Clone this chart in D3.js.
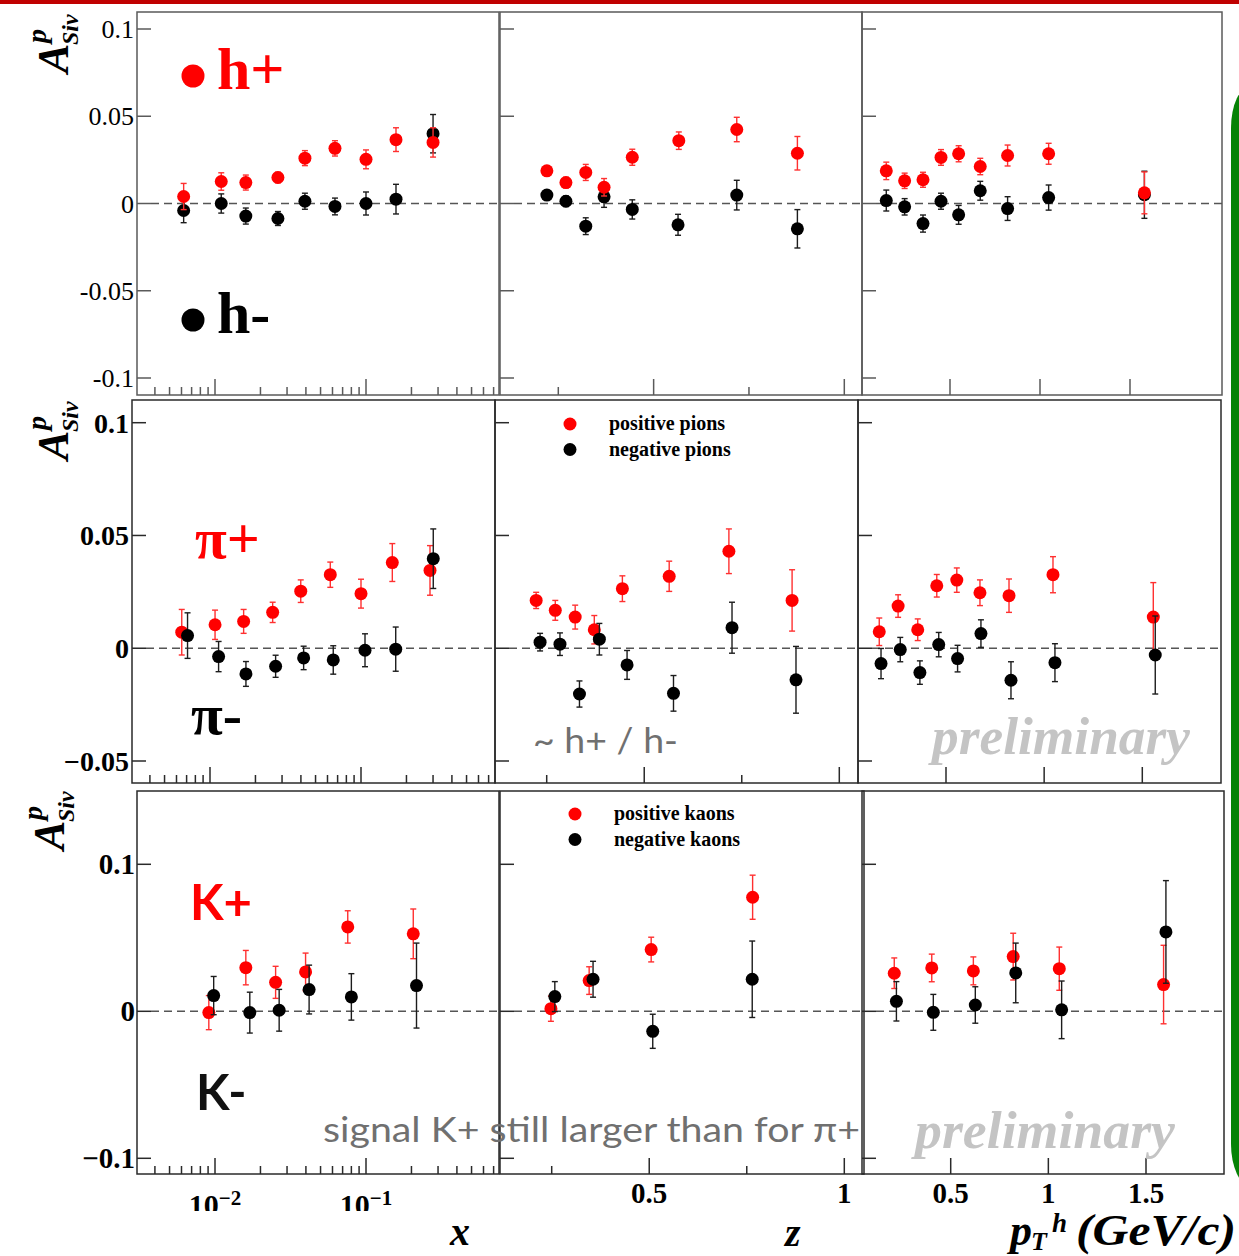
<!DOCTYPE html>
<html>
<head>
<meta charset="utf-8">
<script src="https://cdn.jsdelivr.net/npm/d3@7"></script>
<style>
  body { margin: 0; background: #fff; }
  svg { display: block; }
</style>
</head>
<body>
<svg id="chart" width="1239" height="1256"></svg>
<script>
// Sivers asymmetry on a proton target, binned in x, z and pT.
// Each point: [bin centre, asymmetry, statistical error].

// --- unidentified hadrons ---
const hPosX = [[0.0062,0.0040,0.0075],[0.0110,0.0126,0.0050],[0.0160,0.0120,0.0043],[0.0261,0.0149,0.0030],[0.0394,0.0260,0.0043],[0.0623,0.0316,0.0044],[0.1000,0.0253,0.0054],[0.1580,0.0366,0.0068],[0.2780,0.0350,0.0084]];
const hNegX = [[0.0062,-0.0040,0.0070],[0.0110,0.0000,0.0055],[0.0160,-0.0072,0.0046],[0.0261,-0.0086,0.0040],[0.0394,0.0013,0.0046],[0.0623,-0.0017,0.0048],[0.1000,0.0000,0.0066],[0.1580,0.0025,0.0085],[0.2780,0.0400,0.0110]];
const hPosZ = [[0.220,0.0187,0.0025],[0.270,0.0120,0.0030],[0.322,0.0178,0.0046],[0.370,0.0093,0.0050],[0.444,0.0265,0.0046],[0.566,0.0360,0.0050],[0.718,0.0424,0.0070],[0.877,0.0288,0.0096]];
const hNegZ = [[0.220,0.0048,0.0020],[0.270,0.0013,0.0030],[0.322,-0.0130,0.0048],[0.370,0.0038,0.0060],[0.444,-0.0034,0.0055],[0.564,-0.0122,0.0060],[0.718,0.0048,0.0085],[0.877,-0.0145,0.0110]];
const hPosPt = [[0.146,0.0187,0.0050],[0.248,0.0130,0.0044],[0.350,0.0136,0.0043],[0.450,0.0264,0.0045],[0.548,0.0285,0.0046],[0.668,0.0212,0.0047],[0.820,0.0275,0.0060],[1.048,0.0285,0.0060],[1.580,0.0061,0.0120]];
const hNegPt = [[0.146,0.0017,0.0060],[0.248,-0.0019,0.0047],[0.350,-0.0115,0.0049],[0.450,0.0013,0.0046],[0.548,-0.0065,0.0054],[0.668,0.0073,0.0054],[0.820,-0.0029,0.0068],[1.048,0.0034,0.0072],[1.580,0.0050,0.0135]];

// --- pions ---
const piPosX = [[0.0065,0.0071,0.0101],[0.0108,0.0104,0.0065],[0.0167,0.0119,0.0053],[0.0260,0.0159,0.0045],[0.0399,0.0253,0.0050],[0.0626,0.0326,0.0056],[0.1000,0.0242,0.0064],[0.1612,0.0380,0.0084],[0.2864,0.0345,0.0110]];
const piNegX = [[0.0071,0.0056,0.0101],[0.0114,-0.0037,0.0067],[0.0173,-0.0114,0.0055],[0.0272,-0.0080,0.0049],[0.0417,-0.0043,0.0052],[0.0655,-0.0052,0.0063],[0.1063,-0.0009,0.0073],[0.1698,-0.0004,0.0098],[0.3010,0.0397,0.0132]];
const piPosZ = [[0.223,0.0212,0.0036],[0.272,0.0168,0.0044],[0.323,0.0138,0.0053],[0.372,0.0082,0.0063],[0.444,0.0264,0.0057],[0.564,0.0319,0.0067],[0.717,0.0430,0.0099],[0.879,0.0212,0.0136]];
const piNegZ = [[0.233,0.0027,0.0039],[0.284,0.0018,0.0050],[0.334,-0.0203,0.0058],[0.385,0.0040,0.0070],[0.456,-0.0074,0.0064],[0.575,-0.0200,0.0079],[0.725,0.0091,0.0113],[0.889,-0.0140,0.0148]];
const piPosPt = [[0.160,0.0073,0.0061],[0.256,0.0187,0.0050],[0.356,0.0082,0.0048],[0.453,0.0277,0.0050],[0.555,0.0302,0.0054],[0.673,0.0246,0.0057],[0.821,0.0233,0.0074],[1.045,0.0326,0.0080],[1.556,0.0138,0.0153]];
const piNegPt = [[0.169,-0.0068,0.0067],[0.267,-0.0006,0.0054],[0.367,-0.0108,0.0052],[0.463,0.0016,0.0054],[0.559,-0.0046,0.0059],[0.678,0.0065,0.0061],[0.831,-0.0142,0.0082],[1.055,-0.0064,0.0084],[1.566,-0.0030,0.0173]];

// --- kaons ---
const kPosX = [[0.0091,-0.0009,0.0116],[0.0160,0.0297,0.0117],[0.0252,0.0197,0.0109],[0.0398,0.0268,0.0128],[0.0757,0.0574,0.0110],[0.2056,0.0527,0.0169]];
const kNegX = [[0.0098,0.0107,0.0130],[0.0170,-0.0009,0.0139],[0.0266,0.0007,0.0142],[0.0420,0.0148,0.0166],[0.0800,0.0098,0.0158],[0.2160,0.0175,0.0289]];
const kPosZ = [[0.248,0.0018,0.0086],[0.346,0.0209,0.0094],[0.505,0.0420,0.0084],[0.765,0.0776,0.0150]];
const kNegZ = [[0.258,0.0100,0.0102],[0.356,0.0218,0.0122],[0.509,-0.0136,0.0116],[0.764,0.0218,0.0260]];
const kPosPt = [[0.211,0.0259,0.0104],[0.403,0.0295,0.0094],[0.616,0.0275,0.0095],[0.820,0.0372,0.0159],[1.056,0.0290,0.0147],[1.590,0.0182,0.0267]];
const kNegPt = [[0.222,0.0068,0.0134],[0.411,-0.0007,0.0122],[0.626,0.0043,0.0124],[0.833,0.0261,0.0203],[1.068,0.0010,0.0196],[1.602,0.0540,0.0349]];

// --- axis ticks ---
const yTicksHadron = [-0.1, -0.05, 0, 0.05, 0.1];
const yTicksPion = [-0.05, 0, 0.05, 0.1];
const yTicksKaon = [-0.1, 0, 0.1];
const xMajorTicks = [0.01, 0.1];
const xTickExponents = ["\u22122", "\u22121"];
const zMajorTicks = [0.5, 1];
const zMinorTicks = [0.25, 0.75];
const zTickLabels = ["0.5", "1"];
const ptTicks = [0.5, 1, 1.5];
const ptTickLabels = ["0.5", "1", "1.5"];

const RED = "#ff0000", RED_BAR = "#ff3030", BLACK = "#000000", BLACK_BAR = "#1c1c1c";
const SERIF = "'Liberation Serif','Times New Roman',serif";
const SANS = "Lato,'Open Sans','Liberation Sans',sans-serif";

const svg = d3.select("#chart");

// slide decorations
svg.append("rect").attr("x", 0).attr("y", 0).attr("width", 1239).attr("height", 4).attr("fill", "#c00000");
svg.append("rect").attr("x", 1231).attr("y", 86).attr("width", 60).attr("height", 1100)
  .attr("rx", 20).attr("ry", 42).attr("fill", "#068206");

// row geometry: three canvases stacked, each with x / z / pT panels
const rows = [
  {
    top: 12, bottom: 395, yDom: [-0.1, 0.1], yRng: [378, 29], yTicks: yTicksHadron,
    minus: "-", labSize: 26, labWeight: "normal", labEnd: 134, frame: "#5a5a5a", redOnTop: true,
    panels: [
      { kind: "x", l: 137, r: 499, dom: [0.01, 0.1], rng: [215, 366], pos: hPosX, neg: hNegX },
      { kind: "z", l: 500, r: 862, dom: [0.25, 1], rng: [558.3, 844.3], pos: hPosZ, neg: hNegZ },
      { kind: "pt", l: 862, r: 1222, dom: [0.5, 1.5], rng: [950, 1130], pos: hPosPt, neg: hNegPt }
    ]
  },
  {
    top: 400, bottom: 783, yDom: [-0.05, 0.1], yRng: [761, 422.7], yTicks: yTicksPion,
    minus: "\u2212", labSize: 28, labWeight: "bold", labEnd: 129, frame: "#2a2a2a", redOnTop: false,
    panels: [
      { kind: "x", l: 132, r: 495, dom: [0.01, 0.1], rng: [210, 361], pos: piPosX, neg: piNegX },
      { kind: "z", l: 495, r: 858, dom: [0.25, 1], rng: [546.7, 839.3], pos: piPosZ, neg: piNegZ },
      { kind: "pt", l: 858, r: 1221, dom: [0.5, 1.5], rng: [946, 1142.3], pos: piPosPt, neg: piNegPt }
    ]
  },
  {
    top: 791, bottom: 1174, yDom: [-0.1, 0.1], yRng: [1158.3, 864.3], yTicks: yTicksKaon,
    minus: "\u2212", labSize: 29, labWeight: "bold", labEnd: 135, frame: "#2a2a2a", redOnTop: false,
    panels: [
      { kind: "x", l: 137, r: 499, dom: [0.01, 0.1], rng: [215, 366], pos: kPosX, neg: kNegX },
      { kind: "z", l: 500, r: 864, dom: [0.25, 1], rng: [551.7, 844.3], pos: kPosZ, neg: kNegZ },
      { kind: "pt", l: 862, r: 1224, dom: [0.5, 1.5], rng: [950.7, 1146], pos: kPosPt, neg: kNegPt }
    ]
  }
];

const fmtY = (v, minus) => v === 0 ? "0" : (v < 0 ? minus : "") + String(Math.abs(v));

function drawSeries(g, data, xs, ys, fill, barColor) {
  const s = g.append("g");
  data.forEach(d => {
    const cx = xs(d[0]), y1 = ys(d[1] - d[2]), y2 = ys(d[1] + d[2]);
    s.append("line").attr("x1", cx).attr("x2", cx).attr("y1", y1).attr("y2", y2)
      .attr("stroke", barColor).attr("stroke-width", 1.4);
    [y1, y2].forEach(yy => s.append("line").attr("x1", cx - 3).attr("x2", cx + 3)
      .attr("y1", yy).attr("y2", yy).attr("stroke", barColor).attr("stroke-width", 1.4));
  });
  s.selectAll("circle").data(data).join("circle")
    .attr("cx", d => xs(d[0])).attr("cy", d => ys(d[1])).attr("r", 6.5).attr("fill", fill);
}

rows.forEach((row, ri) => {
  const ys = d3.scaleLinear().domain(row.yDom).range(row.yRng);
  row.panels.forEach((p, pi) => {
    const g = svg.append("g");
    const xs = p.kind === "x" ? d3.scaleLog().domain(p.dom).range(p.rng)
                              : d3.scaleLinear().domain(p.dom).range(p.rng);
    // frame
    g.append("rect").attr("x", p.l).attr("y", row.top).attr("width", p.r - p.l)
      .attr("height", row.bottom - row.top).attr("fill", "none")
      .attr("stroke", row.frame).attr("stroke-width", 1.5);
    // y ticks
    row.yTicks.forEach(t => g.append("line").attr("x1", p.l).attr("x2", p.l + 14)
      .attr("y1", ys(t)).attr("y2", ys(t)).attr("stroke", row.frame).attr("stroke-width", 1.5));
    // x ticks
    const ticks = [];
    if (p.kind === "x") {
      xMajorTicks.forEach(t => ticks.push([t, 16]));
      [0.001, 0.01, 0.1].forEach(dec => d3.range(2, 10).forEach(k => ticks.push([k * dec, 8])));
    } else if (p.kind === "z") {
      zMajorTicks.forEach(t => ticks.push([t, 16]));
      zMinorTicks.forEach(t => ticks.push([t, 8]));
    } else {
      ptTicks.forEach(t => ticks.push([t, 16]));
    }
    ticks.forEach(([t, len]) => {
      const px = xs(t);
      if (px <= p.l + 1 || px >= p.r - 1) return;
      g.append("line").attr("x1", px).attr("x2", px).attr("y1", row.bottom).attr("y2", row.bottom - len)
        .attr("stroke", row.frame).attr("stroke-width", 1.5);
    });
    // zero line
    g.append("line").attr("x1", p.l + 14).attr("x2", p.r).attr("y1", ys(0)).attr("y2", ys(0))
      .attr("stroke", "#555").attr("stroke-width", 1.4).attr("stroke-dasharray", "8,5");
    // data
    if (row.redOnTop) {
      drawSeries(g, p.neg, xs, ys, BLACK, BLACK_BAR);
      drawSeries(g, p.pos, xs, ys, RED, RED_BAR);
    } else {
      drawSeries(g, p.pos, xs, ys, RED, RED_BAR);
      drawSeries(g, p.neg, xs, ys, BLACK, BLACK_BAR);
    }
    // y tick labels on the left panel
    if (pi === 0) {
      row.yTicks.forEach(t => g.append("text").attr("x", row.labEnd).attr("y", ys(t))
        .attr("dy", "0.35em").attr("text-anchor", "end")
        .style("font-family", SERIF).style("font-size", row.labSize + "px")
        .style("font-weight", row.labWeight).text(fmtY(t, row.minus)));
    }
    // x tick labels on the bottom row
    if (ri === 2) {
      if (p.kind === "x") {
        const clipId = "xlabclip";
        svg.append("clipPath").attr("id", clipId).append("rect")
          .attr("x", p.l - 40).attr("y", row.bottom + 5).attr("width", p.r - p.l + 80).attr("height", 1211 - row.bottom - 5);
        const lg = svg.append("g").attr("clip-path", `url(#${clipId})`);
        xMajorTicks.forEach((t, i) => {
          const tx = lg.append("text").attr("x", xs(t)).attr("y", 1215).attr("text-anchor", "middle")
            .style("font-family", SERIF).style("font-weight", "bold").style("font-size", "30px");
          tx.append("tspan").text("10");
          tx.append("tspan").attr("dy", -10).style("font-size", "21px").text(xTickExponents[i]);
        });
      } else {
        const vals = p.kind === "z" ? zMajorTicks : ptTicks;
        const labs = p.kind === "z" ? zTickLabels : ptTickLabels;
        vals.forEach((t, i) => g.append("text").attr("x", xs(t)).attr("y", 1203).attr("text-anchor", "middle")
          .style("font-family", SERIF).style("font-weight", "bold").style("font-size", "29px").text(labs[i]));
      }
    }
  });
});

// y axis titles  A^p_Siv
function yTitle(x, y) {
  const g = svg.append("g").attr("transform", `translate(${x},${y}) rotate(-90)`)
    .style("font-family", SERIF).style("font-style", "italic").style("font-weight", "bold");
  g.append("text").attr("x", 0).attr("y", 0).style("font-size", "44px").text("A");
  g.append("text").attr("x", 30).attr("y", -22).style("font-size", "28px").text("p");
  g.append("text").attr("x", 28).attr("y", 10).style("font-size", "24px").text("Siv");
}
yTitle(68, 73);
yTitle(68, 460);
yTitle(64, 850);

// axis titles
const axT = svg.append("g").style("font-family", SERIF).style("font-weight", "bold").style("font-style", "italic");
axT.append("text").attr("x", 450).attr("y", 1245).style("font-size", "40px").text("x");
axT.append("text").attr("x", 785).attr("y", 1246).style("font-size", "40px").text("z");
const pt = axT.append("text").attr("x", 1010).attr("y", 1245).style("font-size", "44px");
pt.append("tspan").text("p");
pt.append("tspan").attr("x", 1031).attr("dy", 5).style("font-size", "26px").text("T");
pt.append("tspan").attr("x", 1052).attr("dy", -18).style("font-size", "27px").text("h");
pt.append("tspan").attr("x", 1076).attr("dy", 13).attr("textLength", 160)
  .attr("lengthAdjust", "spacingAndGlyphs").text("(GeV/c)");

// particle labels
const lab = svg.append("g").style("font-family", SERIF).style("font-weight", "bold");
svg.append("circle").attr("cx", 193).attr("cy", 76).attr("r", 11.5).attr("fill", RED);
lab.append("text").attr("x", 217).attr("y", 89).style("font-size", "60px").attr("fill", RED).text("h+");
svg.append("circle").attr("cx", 193).attr("cy", 320).attr("r", 11.5).attr("fill", BLACK);
lab.append("text").attr("x", 217).attr("y", 333).style("font-size", "60px").attr("fill", BLACK).text("h-");
lab.append("text").attr("x", 195).attr("y", 558).style("font-size", "58px").attr("fill", RED).text("\u03c0+");
lab.append("text").attr("x", 191).attr("y", 734).style("font-size", "58px").attr("fill", BLACK).text("\u03c0-");
const klab = svg.append("g").style("font-family", SANS).style("font-weight", "bold");
klab.append("text").attr("x", 190).attr("y", 920).style("font-size", "49px").attr("fill", RED).text("K+");
klab.append("text").attr("x", 196).attr("y", 1110).style("font-size", "49px").attr("fill", "#111").text("K-");

// legends
function legend(x, y, items) {
  items.forEach((it, i) => {
    svg.append("circle").attr("cx", x).attr("cy", y + i * 25.5).attr("r", 6.5).attr("fill", it[1]);
    svg.append("text").attr("x", x + 39).attr("y", y + i * 25.5 + 6)
      .style("font-family", SERIF).style("font-weight", "bold").style("font-size", "20px").text(it[0]);
  });
}
legend(570, 424, [["positive pions", RED], ["negative pions", BLACK]]);
legend(575, 814, [["positive kaons", RED], ["negative kaons", BLACK]]);

// overlay notes
const prelim = svg.append("g").style("font-family", SERIF).style("font-weight", "bold")
  .style("font-style", "italic").style("font-size", "53px").attr("fill", "#c4c4c4");
prelim.append("text").attr("x", 932).attr("y", 754).attr("textLength", 258).attr("lengthAdjust", "spacingAndGlyphs").text("preliminary");
prelim.append("text").attr("x", 915).attr("y", 1148).attr("textLength", 260).attr("lengthAdjust", "spacingAndGlyphs").text("preliminary");

const note = svg.append("g").style("font-family", SANS).attr("fill", "#707070");
note.append("text").attr("x", 533).attr("y", 753).style("font-size", "35px")
  .attr("textLength", 145).attr("lengthAdjust", "spacingAndGlyphs").text("~ h+ / h-");
note.append("text").attr("x", 323).attr("y", 1142).style("font-size", "34px")
  .attr("textLength", 537).attr("lengthAdjust", "spacingAndGlyphs").text("signal K+ still larger than for \u03c0+");
</script>
</body>
</html>
